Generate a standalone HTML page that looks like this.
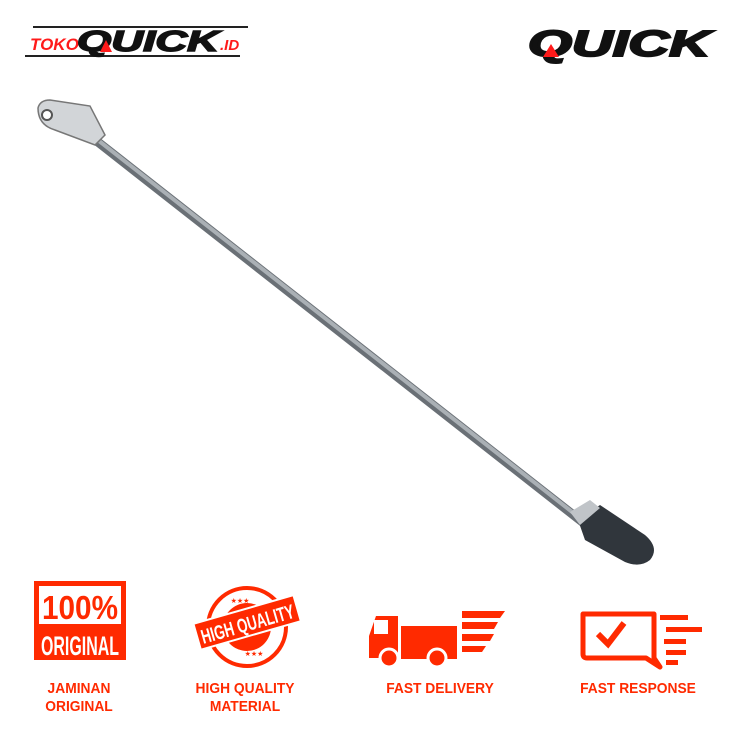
<!DOCTYPE html>
<html><head><style>
body{margin:0;width:740px;height:740px;background:#fff;overflow:hidden;font-family:"Liberation Sans",sans-serif}
.l{position:absolute;color:#ff2a00;font-weight:bold;font-size:15px;text-align:center;line-height:18px;transform:scaleX(0.92)}
</style></head><body>
<svg width="740" height="740" style="position:absolute;left:0;top:0">
<line x1="33" y1="27" x2="248" y2="27" stroke="#222" stroke-width="2"/>
<line x1="25" y1="56" x2="240" y2="56" stroke="#222" stroke-width="2"/>
<text x="30" y="50" font-family="Liberation Sans" font-weight="bold" font-style="italic" font-size="17" fill="#ff1a1a">TOKO</text>
<text x="77" y="51" font-family="Liberation Sans" font-weight="bold" font-style="italic" font-size="29" fill="#111" stroke="#111" stroke-width="1.5" textLength="142" lengthAdjust="spacingAndGlyphs">QUICK</text>
<polygon points="100,52 106,40 112,52" fill="#ff1a1a"/>
<text x="220" y="50" font-family="Liberation Sans" font-weight="bold" font-style="italic" font-size="15" fill="#ff1a1a">.ID</text>
<text x="528" y="56" font-family="Liberation Sans" font-weight="bold" font-style="italic" font-size="36" fill="#111" stroke="#111" stroke-width="2" textLength="182" lengthAdjust="spacingAndGlyphs">QUICK</text>
<polygon points="543,57 551,44 559,57" fill="#ff1a1a"/>
<!-- rod -->
<line x1="80" y1="128" x2="590" y2="528" stroke="#6a7076" stroke-width="9" stroke-linecap="round"/>
<line x1="80" y1="126" x2="590" y2="526" stroke="#aab0b5" stroke-width="4"/>
<path d="M38 108 Q40 100 50 100 L90 106 L105 135 L95 145 L55 130 Q38 125 38 108Z" fill="#d2d5d8" stroke="#777" stroke-width="1.5"/>
<circle cx="47" cy="115" r="5" fill="#fff" stroke="#555" stroke-width="2"/>
<path d="M578 520 L600 505 L645 535 Q660 548 650 560 Q640 568 625 562 L585 540Z" fill="#30363c"/>
<path d="M570 512 L590 500 L600 508 L580 525Z" fill="#c0c4c8"/>
<!-- 100% original -->
<rect x="34" y="581" width="92" height="79" fill="#ff2a00"/>
<rect x="39" y="586" width="82" height="38" fill="#fff"/>
<text x="80" y="619" text-anchor="middle" font-family="Liberation Sans" font-weight="bold" font-size="33" fill="#ff2a00" textLength="76" lengthAdjust="spacingAndGlyphs">100%</text>
<text x="80" y="655" text-anchor="middle" font-family="Liberation Sans" font-weight="bold" font-size="27" fill="#fff" textLength="78" lengthAdjust="spacingAndGlyphs">ORIGINAL</text>
<!-- stamp -->
<circle cx="247" cy="627" r="39" fill="none" stroke="#ff2a00" stroke-width="4"/>
<circle cx="247" cy="627" r="24" fill="#ff2a00"/>
<g transform="rotate(-16 247 622)"><rect x="195" y="609" width="104" height="27" fill="#ff2a00" stroke="#fff" stroke-width="2"/>
<text x="247" y="631" text-anchor="middle" font-family="Liberation Sans" font-weight="bold" font-size="20" fill="#fff" textLength="96" lengthAdjust="spacingAndGlyphs">HIGH QUALITY</text></g>
<text x="240" y="603" text-anchor="middle" font-size="7" fill="#ff2a00">★★★</text>
<text x="254" y="656" text-anchor="middle" font-size="7" fill="#ff2a00">★★★</text>
<!-- truck -->
<rect x="401" y="626" width="56" height="33" fill="#ff2a00"/>
<path d="M369 658 L369 636 L376 616 L398 616 L398 658Z" fill="#ff2a00"/>
<rect x="374" y="620" width="14" height="14" fill="#fff"/>
<circle cx="389" cy="658" r="9" fill="#ff2a00" stroke="#fff" stroke-width="3"/>
<circle cx="437" cy="658" r="9" fill="#ff2a00" stroke="#fff" stroke-width="3"/>
<polygon points="462,611 505,611 500,618 462,618" fill="#ff2a00"/>
<polygon points="462,622 498,622 494,629 462,629" fill="#ff2a00"/>
<polygon points="462,634 494,634 490,641 462,641" fill="#ff2a00"/>
<polygon points="462,646 486,646 482,652 462,652" fill="#ff2a00"/>
<!-- response -->
<path d="M583 614 L654 614 L654 658 L660 667 L646 658 L587 658 Q583 658 583 654Z" fill="none" stroke="#ff2a00" stroke-width="5" stroke-linejoin="round"/>
<polyline points="598,634 608,644 624,623" fill="none" stroke="#ff2a00" stroke-width="6"/>
<rect x="660" y="615" width="28" height="5" fill="#ff2a00"/>
<rect x="666" y="627" width="36" height="5" fill="#ff2a00"/>
<rect x="664" y="639" width="22" height="5" fill="#ff2a00"/>
<rect x="666" y="650" width="20" height="5" fill="#ff2a00"/>
<rect x="666" y="660" width="12" height="5" fill="#ff2a00"/>
</svg>
<div class="l" style="left:19px;top:680px;width:120px">JAMINAN<br>ORIGINAL</div>
<div class="l" style="left:175px;top:680px;width:140px">HIGH QUALITY<br>MATERIAL</div>
<div class="l" style="left:365px;top:680px;width:150px">FAST DELIVERY</div>
<div class="l" style="left:563px;top:680px;width:150px">FAST RESPONSE</div>
</body></html>
